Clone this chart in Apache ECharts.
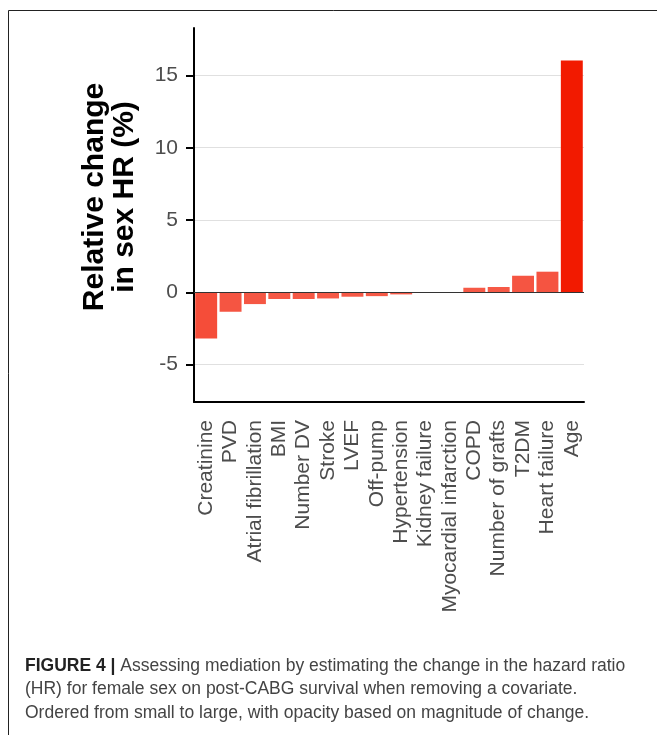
<!DOCTYPE html>
<html>
<head>
<meta charset="utf-8">
<title>Relative change in sex HR</title>
<script src="https://cdn.jsdelivr.net/npm/echarts@6/dist/echarts.min.js"></script>
<style>
  html, body { margin: 0; padding: 0; background: #ffffff; }
  #chart { width: 657px; height: 735px; }
</style>
</head>
<body>
<div id="chart"></div>
<script>
// Covariates removed from the model, ordered from small to large change
const categories = [
  'Creatinine', 'PVD', 'Atrial fibrillation', 'BMI', 'Number DV', 'Stroke',
  'LVEF', 'Off-pump', 'Hypertension', 'Kidney failure', 'Myocardial infarction',
  'COPD', 'Number of grafts', 'T2DM', 'Heart failure', 'Age'
];
// Relative change in the sex hazard ratio (%) when each covariate is removed
const relChange = [
  -3.19, -1.34, -0.81, -0.46, -0.46, -0.42,
  -0.30, -0.26, -0.14, -0.03, 0.01,
  0.32, 0.37, 1.15, 1.43, 16.04
];
// Tick values on the y axis
const yTicks = [-5, 0, 5, 10, 15];

const baseColor = '242,26,0';
const maxAbs = Math.max(...relChange.map(v => Math.abs(v)));

const chart = echarts.init(document.getElementById('chart'), null, { renderer: 'canvas' });

const FONT = 'Liberation Sans, Arial, Helvetica, sans-serif';
const CAPTION_SIZE = 17.5;

const option = {
  backgroundColor: '#ffffff',
  animation: false,
  textStyle: { fontFamily: FONT },
  grid: { left: 194, right: 73, top: 28, bottom: 333, containLabel: false },
  xAxis: {
    type: 'category',
    data: categories,
    axisLine: { onZero: false, lineStyle: { color: '#000000', width: 2 } },
    axisTick: { show: false },
    axisLabel: {
      rotate: 90, margin: 18, fontSize: 21, color: '#4d4d4d',
      fontFamily: FONT, interval: 0
    },
    splitLine: { show: false }
  },
  yAxis: {
    type: 'value',
    min: -7.58,
    max: 18.28,
    axisLine: { show: true, lineStyle: { color: '#000000', width: 2 } },
    axisTick: {
      show: true, length: 8, customValues: yTicks,
      lineStyle: { color: '#000000', width: 2 }
    },
    axisLabel: {
      customValues: yTicks, margin: 16, fontSize: 21,
      color: '#4d4d4d', fontFamily: FONT
    },
    splitLine: { show: true, lineStyle: { color: '#e0e0e0', width: 1 } }
  },
  series: [{
    type: 'bar',
    barCategoryGap: '10%',
    data: relChange.map(v => ({
      value: v,
      itemStyle: { color: 'rgba(' + baseColor + ',' + (0.72 + 0.28 * Math.abs(v) / maxAbs).toFixed(3) + ')' }
    })),
    markLine: {
      silent: true,
      symbol: ['none', 'none'],
      label: { show: false },
      lineStyle: { color: '#333333', width: 1, type: 'solid' },
      data: [{ yAxis: 0 }]
    }
  }],
  graphic: [
    {
      type: 'rect',
      shape: { x: 8.5, y: 10.5, width: 700, height: 800 },
      style: { fill: 'none', stroke: '#222222', lineWidth: 1 },
      silent: true
    },
    // y-axis title, two lines, rotated to read bottom-to-top
    {
      type: 'text', x: 110, y: 197, rotation: Math.PI / 2,
      style: {
        text: 'Relative change\nin sex HR (%)',
        align: 'center', verticalAlign: 'middle',
        fontSize: 30, fontWeight: 'bold', fontFamily: FONT,
        fill: '#000000', lineHeight: 30
      }
    },
    {
      type: 'text', left: 25, top: 657,
      style: {
        text: '{b|FIGURE 4 |} Assessing mediation by estimating the change in the hazard ratio',
        fontSize: CAPTION_SIZE, fontFamily: FONT, fill: '#444444',
        rich: { b: { fontWeight: 'bold', fontSize: CAPTION_SIZE, fontFamily: FONT, fill: '#222222' } }
      }
    },
    {
      type: 'text', left: 25, top: 680.5,
      style: {
        text: '(HR) for female sex on post-CABG survival when removing a covariate.',
        fontSize: CAPTION_SIZE, fontFamily: FONT, fill: '#444444'
      }
    },
    {
      type: 'text', left: 25, top: 704,
      style: {
        text: 'Ordered from small to large, with opacity based on magnitude of change.',
        fontSize: CAPTION_SIZE, fontFamily: FONT, fill: '#444444'
      }
    }
  ]
};

chart.setOption(option);
</script>
</body>
</html>
